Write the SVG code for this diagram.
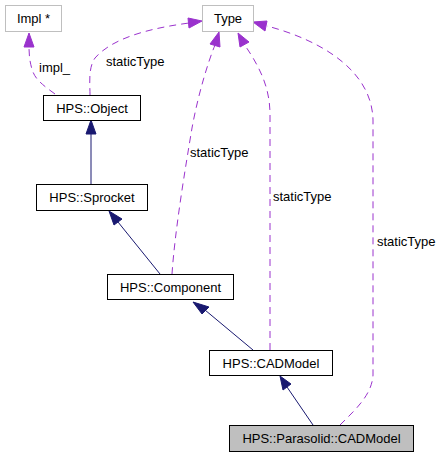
<svg xmlns="http://www.w3.org/2000/svg" width="444" height="457" viewBox="0 0 444 457">
<style>
.node rect{fill:#fff;stroke:#000;stroke-width:1}
.ext rect{fill:#fff;stroke:#bfbfbf;stroke-width:1}
.cur rect{fill:#bfbfbf;stroke:#000;stroke-width:1}
text{font-family:"Liberation Sans",Arial,sans-serif;font-size:13px;fill:#000}
.inh{fill:none;stroke:#191970;stroke-width:1}
.use{fill:none;stroke:#9a32cd;stroke-width:1;stroke-dasharray:7,5}
.ah1{fill:#191970;stroke:#191970}
.ah2{fill:#9a32cd;stroke:#9a32cd}
</style>
<rect width="444" height="457" fill="#fff"/>
<g id="connectors">
<path class="use" d="M55,94 C44,86 36,80 33,72 C30,64 29,56 29,46"/>
<polygon class="ah2" points="24,47 29,33 34,47"/>
<text x="39" y="72">impl_</text>
<path class="use" d="M90,95 C90,84 88,68 95,58 C115,35 160,27 189,23"/>
<polygon class="ah2" points="188,18 202,21 189,28"/>
<text x="106" y="66">staticType</text>
<path class="inh" d="M91,184 L91,133"/>
<polygon class="ah1" points="86,134 91,120 96,134"/>
<path class="inh" d="M160,274 L118,222"/>
<polygon class="ah1" points="114,225 109,211 122,219"/>
<path class="use" d="M172,274 C175,230 185,170 192,128 C198,95 208,62 215,45"/>
<polygon class="ah2" points="210,44 219,32 220,47"/>
<text x="190" y="157">staticType</text>
<path class="inh" d="M253,350 L205,310"/>
<polygon class="ah1" points="202,314 193,302 209,307"/>
<path class="use" d="M270,350 L270,115 C270,90 262,70 244,44"/>
<polygon class="ah2" points="240,47 238,33 249,42"/>
<text x="273" y="201">staticType</text>
<path class="inh" d="M313,425 L287,387"/>
<polygon class="ah1" points="283,390 280,376 291,384"/>
<path class="use" d="M340,425 C355,410 372,395 373,375 L373,120 C372,70 320,40 267,26"/>
<polygon class="ah2" points="267,21 253,22 265,31"/>
<text x="377" y="246">staticType</text>
</g>
<g id="impl" class="ext"><rect x="5.5" y="5.5" width="56" height="26"/><text x="33.5" y="23" text-anchor="middle">Impl *</text></g>
<g id="type" class="ext"><rect x="202.5" y="5.5" width="51" height="26"/><text x="228" y="23" text-anchor="middle">Type</text></g>
<g id="object" class="node"><rect x="43.5" y="95.5" width="97" height="25"/><text x="92" y="112.5" text-anchor="middle">HPS::Object</text></g>
<g id="sprocket" class="node"><rect x="36.5" y="184.5" width="111" height="26"/><text x="92" y="202" text-anchor="middle">HPS::Sprocket</text></g>
<g id="component" class="node"><rect x="107.5" y="274.5" width="126" height="25"/><text x="170.5" y="291.5" text-anchor="middle">HPS::Component</text></g>
<g id="cadmodel" class="node"><rect x="209.5" y="350.5" width="123" height="25"/><text x="271" y="367.5" text-anchor="middle">HPS::CADModel</text></g>
<g id="parasolid" class="cur"><rect x="229.5" y="425.5" width="184" height="26"/><text x="321.5" y="443" text-anchor="middle">HPS::Parasolid::CADModel</text></g>
</svg>
